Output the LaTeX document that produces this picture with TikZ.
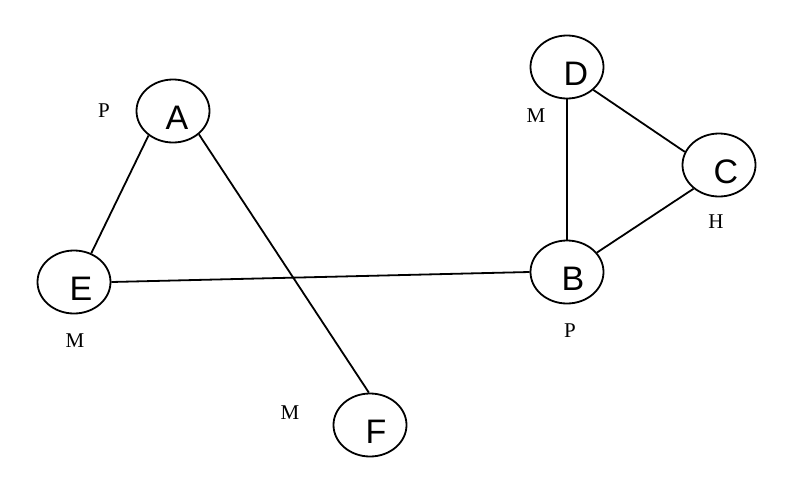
\documentclass[tikz,border=0pt]{standalone}
\usepackage{fontspec}
\setmainfont{Liberation Serif}
\newfontfamily\lettersans{Liberation Sans}
\usetikzlibrary{shapes.geometric}
\tikzset{
  nd/.style={draw, ellipse, line width=1.8pt, minimum width=73pt, minimum height=63pt,
    inner sep=0pt, font=\lettersans\fontsize{34}{34}\selectfont, text height=37pt, text depth=0pt},
  lab/.style={font=\fontsize{21}{21}\selectfont, inner sep=0pt},
  edge/.style={line width=1.8pt}
}
\begin{document}
\begin{tikzpicture}[x=1pt,y=-1pt]
\useasboundingbox (0,0) rectangle (800,479);
\node[nd] (A) at (173,111) {\hspace*{8pt}A};
\node[nd] (E) at (74,282) {\hspace*{14pt}E};
\node[nd] (F) at (370,425) {\hspace*{12pt}F};
\node[nd] (B) at (567,272) {\hspace*{12pt}B};
\node[nd] (D) at (567,67) {\hspace*{18pt}D};
\node[nd] (C) at (719,165) {\hspace*{14pt}C};
\node[lab] (lA) at (104,111) {P};
\node[lab] (lE) at (75,341) {M};
\node[lab] (lF) at (290,413) {M};
\node[lab] (lD) at (536,116) {M};
\node[lab] (lC) at (716,222) {H};
\node[lab] (lB) at (570,331) {P};
\draw[edge] (A.-135) -- (E.59);
\draw[edge] (A.-42) -- (F.92);
\draw[edge] (E.0) -- (B.180);
\draw[edge] (D.-90) -- (B.90);
\draw[edge] (D.-41) -- (C.159);
\draw[edge] (C.-137) -- (B.33);
\end{tikzpicture}
\end{document}
